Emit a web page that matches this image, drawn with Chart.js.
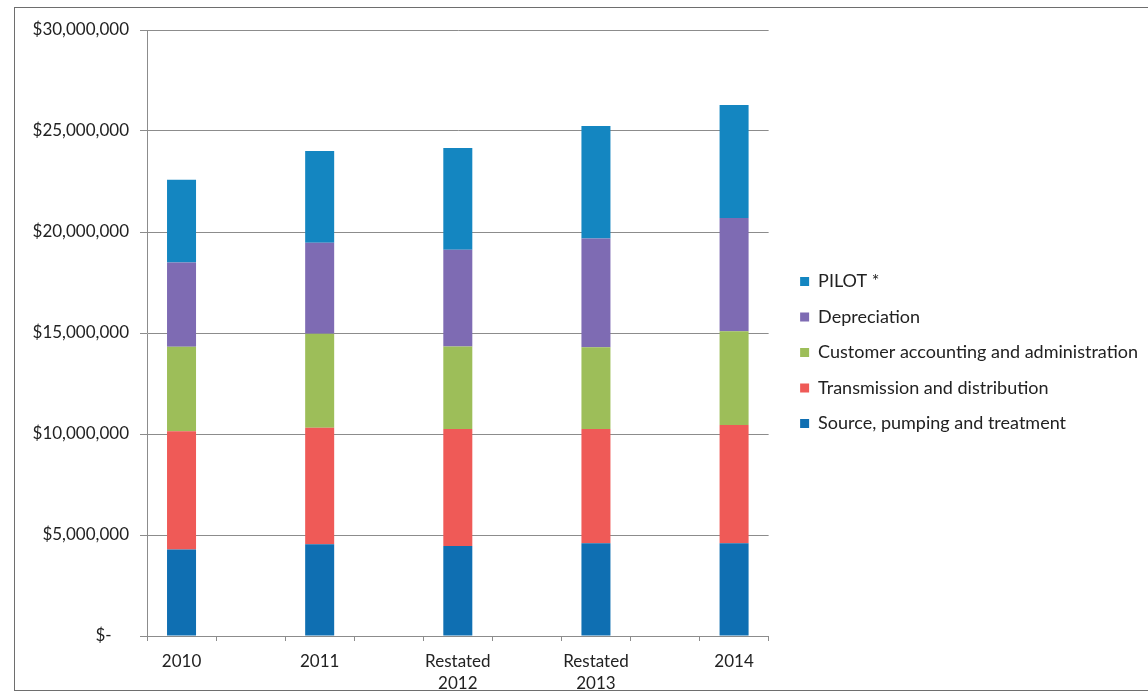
<!DOCTYPE html>
<html>
<head>
<meta charset="utf-8">
<title>Operating costs by year</title>
<script src="https://cdn.jsdelivr.net/npm/chart.js@4.4.1/dist/chart.umd.min.js"></script>
<style>
  html, body { margin: 0; padding: 0; background: #fff; overflow: hidden; }
  #wrap { position: relative; width: 1148px; height: 693px; }
  #frame {
    position: absolute; left: 14px; top: 7px; width: 1140px; height: 682px;
    border: 1px solid #6e6e6e; pointer-events: none;
  }
</style>
</head>
<body>
<div id="wrap">
  <canvas id="costChart"></canvas>
  <div id="frame"></div>
</div>
<script>
// Years shown on the axis; an empty slot sits between each pair
const years = ['2010', '2011', ['Restated', '2012'], ['Restated', '2013'], '2014'];

// Cost components, dollars
const sourcePumping   = [4280000, 4540000, 4460000, 4590000, 4590000];
const transmission    = [5850000, 5770000, 5790000, 5660000, 5850000];
const customerAdmin   = [4190000, 4650000, 4080000, 4040000, 4650000];
const depreciation    = [4170000, 4510000, 4790000, 5390000, 5600000];
const pilot           = [4100000, 4540000, 5040000, 5570000, 5600000];

const yTicks = { min: 0, max: 30000000, step: 5000000 };

// spread the five years over nine category slots
const spaced = arr => arr.flatMap((v, i) => (i ? [null, v] : [v]));
const labels = spaced(years).map(l => (l === null ? '' : l));

const FONT = 'Lato';
const gridGray = '#8c8c8c';

function money(v) {
  if (v === 0) return '$-    ';
  return '$' + v.toLocaleString('en-US');
}

const barStyle = { barPercentage: 0.42, categoryPercentage: 1.0, borderWidth: 0, stack: 'costs' };

// empty axes used only to hold space around the plot
const spacer = size => ({
  display: true,
  grid: { display: false },
  border: { display: false },
  ticks: { display: false },
  afterFit: s => {
    if (s.isHorizontal()) s.height = size; else s.width = size;
  }
});

function draw() {
  new Chart(document.getElementById('costChart'), {
    type: 'bar',
    data: {
      labels: labels,
      datasets: [
        { label: 'Source, pumping and treatment', data: spaced(sourcePumping), backgroundColor: '#0f6fb2', ...barStyle },
        { label: 'Transmission and distribution', data: spaced(transmission), backgroundColor: '#ef5a57', ...barStyle },
        { label: 'Customer accounting and administration', data: spaced(customerAdmin), backgroundColor: '#9dbe59', ...barStyle },
        { label: 'Depreciation', data: spaced(depreciation), backgroundColor: '#7e6bb3', ...barStyle },
        { label: 'PILOT *', data: spaced(pilot), backgroundColor: '#1486c1', ...barStyle }
      ]
    },
    options: {
      responsive: true,
      maintainAspectRatio: false,
      animation: false,
      layout: { padding: { top: 12, right: 0, bottom: 0, left: 0 } },
      plugins: {
        tooltip: { enabled: false },
        legend: {
          position: 'right',
          reverse: true,
          maxWidth: 420,
          labels: {
            boxWidth: 9,
            boxHeight: 9,
            padding: 17.5,
            color: '#222',
            font: { family: FONT, size: 18 }
          }
        }
      },
      scales: {
        x: {
          stacked: true,
          offset: true,
          grid: { drawOnChartArea: false, color: gridGray, tickLength: 5, offset: true },
          border: { color: gridGray },
          ticks: {
            autoSkip: false,
            maxRotation: 0,
            padding: 9,
            color: '#222',
            font: { family: FONT, size: 17, lineHeight: 1.3 }
          },
          afterFit: scale => { scale.height = 57; }
        },
        y: {
          stacked: true,
          min: yTicks.min,
          max: yTicks.max,
          grid: { color: gridGray, tickLength: 7 },
          border: { color: gridGray },
          ticks: {
            stepSize: yTicks.step,
            padding: 11,
            color: '#222',
            font: { family: FONT, size: 17 },
            callback: money
          },
          afterFit: scale => { scale.width = 147; }
        },
        topGap: { type: 'category', position: 'top', ...spacer(18) },
        rightGap: { type: 'linear', position: 'right', ...spacer(14) }
      }
    }
  });
}

document.fonts.load('18px Lato').then(draw, draw);
</script>
</body>
</html>
